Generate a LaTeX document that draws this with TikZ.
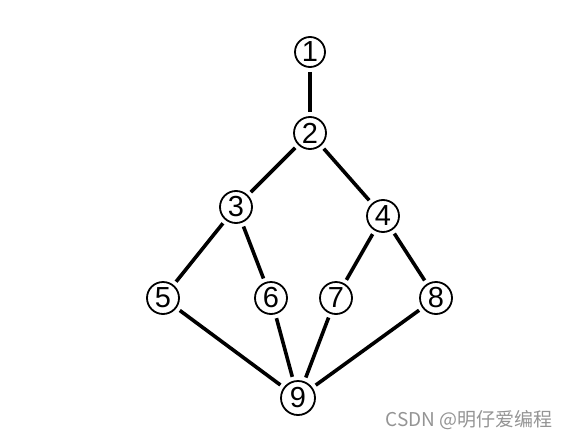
\documentclass[tikz,border=0pt]{standalone}
\usepackage{fontspec}
\setmainfont{Liberation Sans}
\newfontfamily\cjk{Noto Sans CJK SC}
\begin{document}
\begin{tikzpicture}[x=1pt,y=-1pt,
  vtx/.style={circle,draw,line width=1.8pt,minimum size=32pt,inner sep=0pt,font=\fontsize{29}{29}\selectfont},
  edge/.style={line width=3.6pt,shorten >=4pt,shorten <=4pt}]
\useasboundingbox (0,0) rectangle (570,439);
\node[vtx,minimum size=30pt] (n1) at (310,52) {1};
\node[vtx] (n2) at (310,133) {2};
\node[vtx] (n3) at (236,207) {3};
\node[vtx] (n4) at (383,216) {4};
\node[vtx] (n5) at (163,298) {5};
\node[vtx] (n6) at (271,298) {6};
\node[vtx] (n7) at (336,298) {7};
\node[vtx] (n8) at (436,298) {8};
\node[vtx,minimum size=34pt] (n9) at (298,398) {9};
\draw[edge] (n1) -- (n2);
\draw[edge] (n2) -- (n3);
\draw[edge] (n2) -- (n4);
\draw[edge] (n3) -- (n5);
\draw[edge] (n3) -- (n6);
\draw[edge] (n4) -- (n7);
\draw[edge] (n4) -- (n8);
\draw[edge] (n5) -- (n9);
\draw[edge] (n6) -- (n9);
\draw[edge] (n7) -- (n9);
\draw[edge] (n8) -- (n9);
\node[text=black!42,font=\cjk\fontsize{19}{19}\selectfont,anchor=center] (wm) at (469,420) {CSDN @明仔爱编程};
\end{tikzpicture}
\end{document}
